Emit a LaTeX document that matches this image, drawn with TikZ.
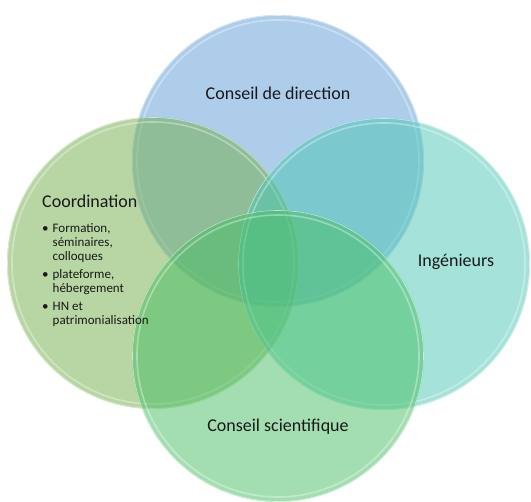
\documentclass[tikz,border=0pt]{standalone}
\usepackage{fontspec}
\setmainfont{Carlito}
\definecolor{vennblue}{HTML}{5B9BD5}
\definecolor{venngreen}{HTML}{70AD47}
\definecolor{vennteal}{HTML}{4BC6B5}
\definecolor{vennmint}{HTML}{46BD62}

\begin{document}
\begin{tikzpicture}[x=1pt,y=-1pt]
\tikzset{venn/.style={circle, minimum size=292pt, inner sep=0pt, fill opacity=0.5},
  rim/.style={white, line width=1.6pt, draw opacity=0.35},
  edge/.style={white, line width=0.6pt, draw opacity=0.6},
  vennlabel/.style={font=\fontsize{18}{21}\selectfont, text=black!90, inner sep=0pt}}
\useasboundingbox (0,0) rectangle (531,502);
% circles
\node [venn, fill=vennblue] (direction) at (278,161) {};
\draw [rim] (direction.center) circle (141pt);
\draw [edge] (direction.center) circle (145.5pt);
\node [venn, fill=venngreen] (coord) at (153,263) {};
\draw [rim] (coord.center) circle (141pt);
\draw [edge] (coord.center) circle (145.5pt);
\node [venn, fill=vennteal] (ingen) at (384,264) {};
\draw [rim] (ingen.center) circle (141pt);
\draw [edge] (ingen.center) circle (145.5pt);
\node [venn, fill=vennmint] (scient) at (278,356) {};
\draw [rim] (scient.center) circle (141pt);
\draw [edge] (scient.center) circle (145.5pt);
% labels
\node [vennlabel, anchor=base] (directionlabel) at (278,100) {Conseil de direction};
\node [vennlabel, anchor=base] (ingenlabel) at (456,267) {Ingénieurs};
\node [vennlabel, anchor=base] (scientlabel) at (278,432) {Conseil scientifique};
\node [vennlabel, anchor=base west] (coordlabel) at (42,208) {Coordination};
\node [anchor=base west, inner sep=0pt, text=black!90, font=\fontsize{13}{14}\selectfont] (coordlist) at (42,233)
  {\begin{tabular}[t]{@{}l@{\hspace{4pt}}l@{}}
   • & Formation,\\
     & séminaires,\\
     & colloques\\[4pt]
   • & plateforme,\\
     & hébergement\\[4pt]
   • & HN et\\
     & patrimonialisation
   \end{tabular}};
\end{tikzpicture}
\end{document}
